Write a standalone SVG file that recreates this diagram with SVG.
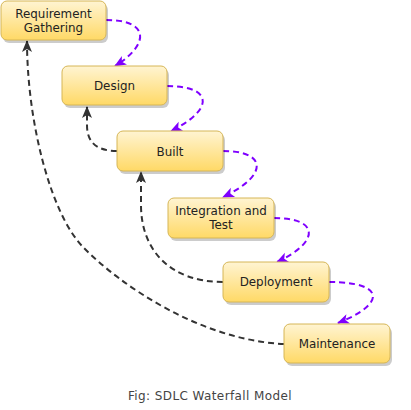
<svg xmlns="http://www.w3.org/2000/svg" width="411" height="410" viewBox="0 0 411 410">
<defs>
<linearGradient id="g" x1="0" y1="0" x2="0" y2="1">
<stop offset="0" stop-color="#fff4d2"/>
<stop offset="1" stop-color="#ffd966"/>
</linearGradient>
<marker id="ap" markerUnits="userSpaceOnUse" markerWidth="14" markerHeight="12" refX="11" refY="5" orient="auto" overflow="visible">
<path d="M0,0 L12,5 L0,10 L3,5 Z" fill="#7f00ff"/>
</marker>
<marker id="ab" markerUnits="userSpaceOnUse" markerWidth="14" markerHeight="12" refX="11" refY="5" orient="auto" overflow="visible">
<path d="M0,0 L12,5 L0,10 L3,5 Z" fill="#333333"/>
</marker>
</defs>
<style>
.box{fill:url(#g);stroke:#d6b656;stroke-width:1}
.sh{fill:#000;opacity:0.2}
.lbl{font-family:"DejaVu Sans",Verdana,sans-serif;font-size:11.9px;fill:#222;text-anchor:middle}
.p{fill:none;stroke:#7f00ff;stroke-width:2;stroke-dasharray:6 4;marker-end:url(#ap)}
.b{fill:none;stroke:#333333;stroke-width:2;stroke-dasharray:6 4;marker-end:url(#ab)}
.cap{font-family:"DejaVu Sans",Verdana,sans-serif;font-size:12px;letter-spacing:0.4px;fill:#444;text-anchor:middle}
</style>
<g id="connectors">
<path class="p" d="M106,20 C152,20 148,46 115,66"/>
<path class="p" d="M167,86 C214,86 214,110 171,131"/>
<path class="p" d="M223,151 C268,151 268,176 223,197"/>
<path class="p" d="M274,218 C320,218 320,242 277,262"/>
<path class="p" d="M329,282 C386,282 386,304 338,323"/>
<path class="b" d="M117,151 C94,151 87,140 87,125 L87,107"/>
<path class="b" d="M223,282 C170,282 141,250 141,205 L141,172"/>
<path class="b" d="M284,344 C200,340 120,285 83,247 C50,213 27,120 27,41"/>
</g>
<g id="n1">
<rect class="sh" x="3" y="4" width="105" height="39" rx="6"/>
<rect class="box" x="1" y="1" width="105" height="39" rx="6"/>
<text class="lbl" x="53.5" y="18">Requirement</text>
<text class="lbl" x="53.5" y="32">Gathering</text>
</g>
<g id="n2">
<rect class="sh" x="64" y="69" width="105" height="39" rx="6"/>
<rect class="box" x="62" y="66" width="105" height="39" rx="6"/>
<text class="lbl" x="114.5" y="90">Design</text>
</g>
<g id="n3">
<rect class="sh" x="119" y="134" width="106" height="40" rx="6"/>
<rect class="box" x="117" y="131" width="106" height="40" rx="6"/>
<text class="lbl" x="170" y="155.5">Built</text>
</g>
<g id="n4">
<rect class="sh" x="170" y="201" width="106" height="40" rx="6"/>
<rect class="box" x="168" y="198" width="106" height="40" rx="6"/>
<text class="lbl" x="221" y="215">Integration and</text>
<text class="lbl" x="221" y="229">Test</text>
</g>
<g id="n5">
<rect class="sh" x="225" y="265" width="106" height="40" rx="6"/>
<rect class="box" x="223" y="262" width="106" height="40" rx="6"/>
<text class="lbl" x="276" y="286">Deployment</text>
</g>
<g id="n6">
<rect class="sh" x="286" y="327" width="106" height="39" rx="6"/>
<rect class="box" x="284" y="324" width="106" height="39" rx="6"/>
<text class="lbl" x="337" y="348">Maintenance</text>
</g>
<text class="cap" x="210" y="400">Fig: SDLC Waterfall Model</text>
</svg>
